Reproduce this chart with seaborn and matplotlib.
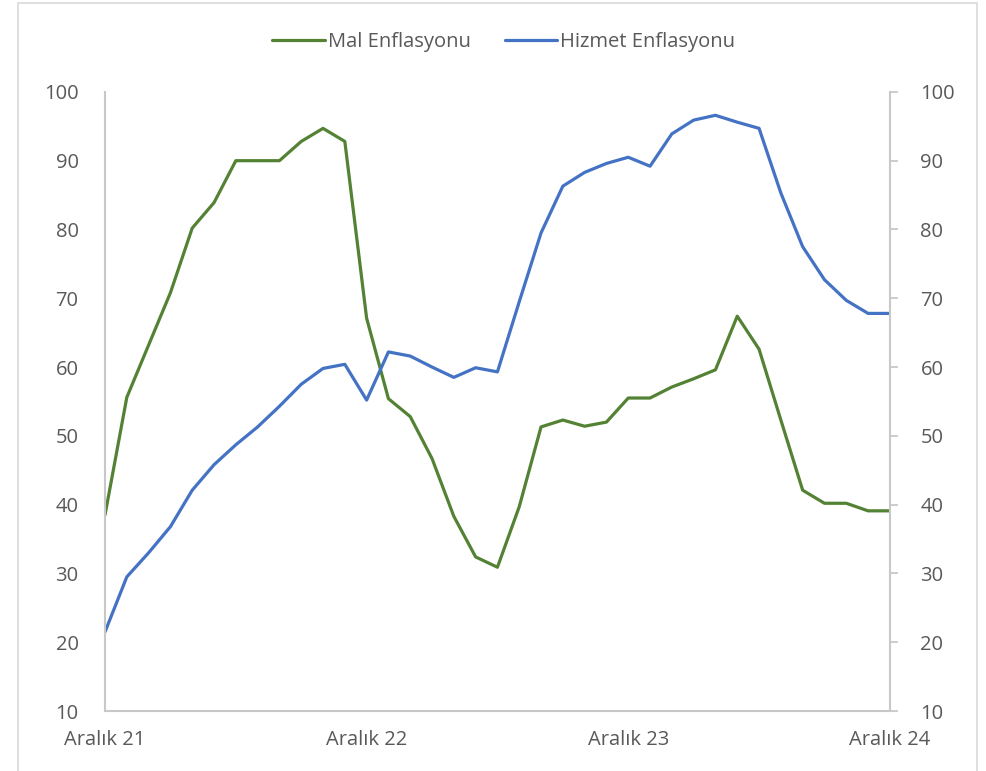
import pandas as pd
import seaborn as sns
import matplotlib.pyplot as plt
from matplotlib.patches import Rectangle

# monthly, Aralık 2021 .. Aralık 2024
month_idx = list(range(37))
tick_pos = [0, 12, 24, 36]
tick_labels = ["Aralık 21", "Aralık 22", "Aralık 23", "Aralık 24"]

mal = [38.5, 55.6, 63.2, 70.8, 80.2, 83.9, 90.0, 90.0, 90.0, 92.8, 94.7, 92.8,
       67.1, 55.4, 52.8, 46.7, 38.3, 32.4, 30.9, 39.7, 51.3, 52.3, 51.4, 52.0,
       55.5, 55.5, 57.1, 58.3, 59.6, 67.4, 62.6, 52.3, 42.1, 40.2, 40.2, 39.1, 39.1]
hizmet = [21.5, 29.5, 33.0, 36.8, 42.1, 45.8, 48.7, 51.3, 54.3, 57.5, 59.8, 60.4,
          55.2, 62.2, 61.6, 60.0, 58.5, 59.9, 59.3, 69.5, 79.5, 86.3, 88.3, 89.6,
          90.5, 89.2, 93.9, 95.9, 96.6, 95.6, 94.7, 85.3, 77.5, 72.7, 69.7, 67.8, 67.8]

series_names = ["Mal Enflasyonu", "Hizmet Enflasyonu"]
colors = {"Mal Enflasyonu": "#548235", "Hizmet Enflasyonu": "#4472C4"}

df = pd.concat([
    pd.DataFrame({"ay": month_idx, "deger": mal, "seri": series_names[0]}),
    pd.DataFrame({"ay": month_idx, "deger": hizmet, "seri": series_names[1]}),
])

sns.set_theme(style="white")
plt.rcParams['font.family'] = ['Open Sans', 'DejaVu Sans']
fs = 14.5

fig = plt.figure(figsize=(9.86, 7.71), dpi=100)
ax = fig.add_axes([0.1065, 0.0778, 0.796, 0.803])

sns.lineplot(data=df, x="ay", y="deger", hue="seri", palette=colors,
             linewidth=2.3, ax=ax, legend=False)

txt = "#595959"
axc = "#C8C8C8"
ax.set_xlim(0, 36)
ax.set_ylim(10, 100)
ax.set_yticks(range(10, 101, 10))
ax.set_xticks(tick_pos)
ax.set_xticklabels(tick_labels)
ax.set_xlabel("")
ax.set_ylabel("")
ax.tick_params(axis="y", length=0, pad=19, labelsize=fs, labelcolor=txt)
ax.tick_params(axis="x", length=0, pad=14, labelsize=fs, labelcolor=txt)
for s in ["top", "right"]:
    ax.spines[s].set_visible(False)
for s in ["left", "bottom"]:
    ax.spines[s].set_color(axc)
    ax.spines[s].set_linewidth(1.5)

# secondary axis on the right
ax2 = ax.twinx()
ax2.set_ylim(10, 100)
ax2.set_yticks(range(10, 101, 10))
ax2.tick_params(axis="y", length=6, width=1.3, color=axc, pad=16,
                labelsize=fs, labelcolor=txt)
for s in ["top", "left", "bottom"]:
    ax2.spines[s].set_visible(False)
ax2.spines["right"].set_color(axc)
ax2.spines["right"].set_linewidth(1.5)

# legend
handles = [plt.Line2D([], [], color=colors[n], lw=2.3) for n in series_names]
fig.legend(handles, series_names, loc="center", bbox_to_anchor=(0.511, 0.945),
           ncol=2, frameon=False, fontsize=fs, labelcolor=txt,
           handlelength=2.6, handletextpad=0.15, columnspacing=1.7)

# chart border
fig.patches.append(Rectangle((18 / 986, -0.01), (977 - 18) / 986, 1 - 3 / 771 + 0.01,
                             transform=fig.transFigure, fill=False,
                             edgecolor="#D9D9D9", linewidth=1.2))

plt.savefig("out.png", dpi=100)
